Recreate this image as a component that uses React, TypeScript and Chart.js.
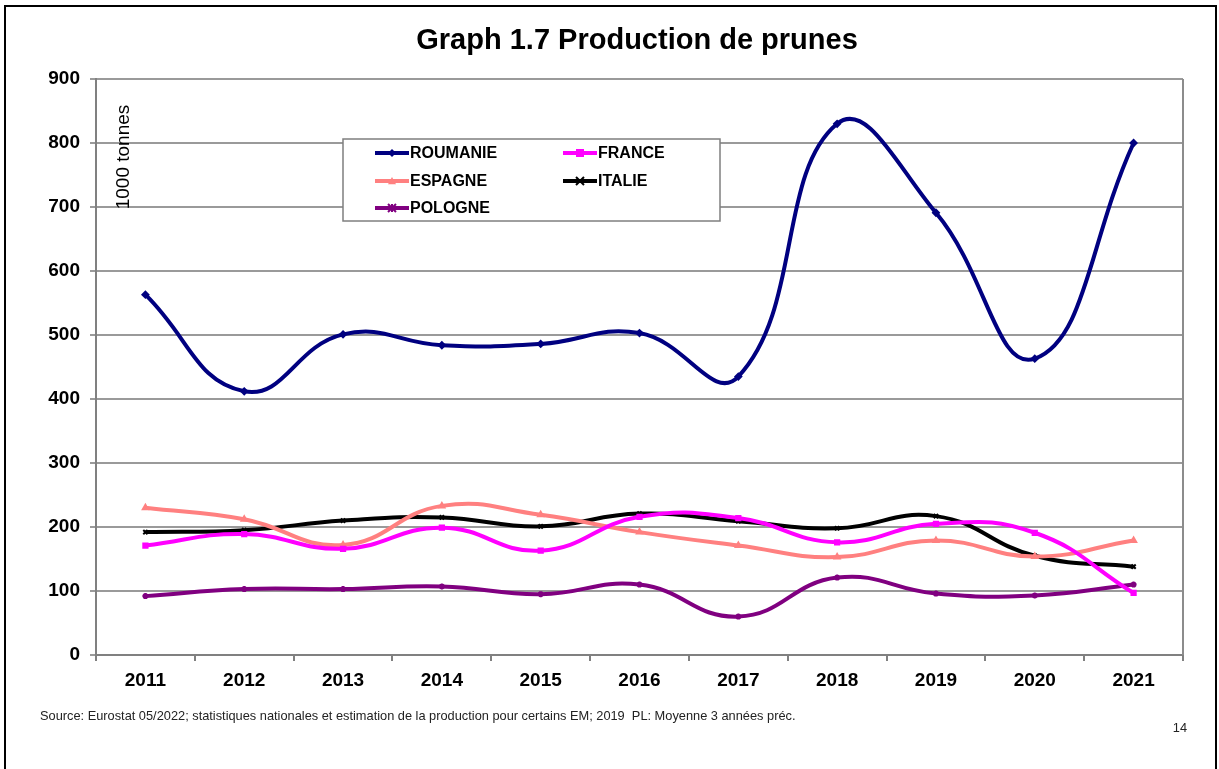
import React, { useEffect, useRef } from "react";
import { Chart, registerables } from "chart.js";

Chart.register(...registerables);

const years = ["2011", "2012", "2013", "2014", "2015", "2016", "2017", "2018", "2019", "2020", "2021"];
const roumanie = [563, 412, 501, 484, 486, 503, 435, 830, 691, 463, 800];
const france = [171, 189, 166, 199, 163, 216, 214, 176, 205, 191, 97];
const espagne = [230, 212, 172, 233, 219, 192, 171, 153, 179, 154, 179];
const italie = [192, 195, 210, 215, 201, 221, 209, 198, 217, 155, 138];
const pologne = [92, 103, 103, 107, 95, 110, 60, 121, 96, 93, 110];

const seriesNames = ["ROUMANIE", "FRANCE", "ESPAGNE", "ITALIE", "POLOGNE"];
const seriesColors = ["#000080", "#FF00FF", "#FF8080", "#000000", "#800080"];
const seriesMarkers = ["rectRot", "rect", "triangle", "crossRot", "star"];

const titleText = "Graph 1.7 Production de prunes";
const yAxisText = "1000 tonnes";
const sourceText =
  "Source: Eurostat 05/2022; statistiques nationales et estimation de la production pour certains EM; 2019  PL: Moyenne 3 années préc.";
const pageNumber = "14";

const FONT = "Arial, 'Liberation Sans', Helvetica, sans-serif";

function drawMarker(ctx: CanvasRenderingContext2D, style: string, x: number, y: number, r: number, color: string) {
  ctx.save();
  ctx.fillStyle = color;
  ctx.strokeStyle = color;
  ctx.lineWidth = 2;
  ctx.beginPath();
  if (style === "rect") {
    ctx.fillRect(x - r, y - r, 2 * r, 2 * r);
  } else if (style === "rectRot") {
    ctx.moveTo(x, y - r);
    ctx.lineTo(x + r, y);
    ctx.lineTo(x, y + r);
    ctx.lineTo(x - r, y);
    ctx.closePath();
    ctx.fill();
  } else if (style === "triangle") {
    ctx.moveTo(x, y - r);
    ctx.lineTo(x + r, y + r * 0.8);
    ctx.lineTo(x - r, y + r * 0.8);
    ctx.closePath();
    ctx.fill();
  } else if (style === "crossRot") {
    ctx.moveTo(x - r, y - r);
    ctx.lineTo(x + r, y + r);
    ctx.moveTo(x + r, y - r);
    ctx.lineTo(x - r, y + r);
    ctx.stroke();
  } else {
    ctx.moveTo(x - r, y - r);
    ctx.lineTo(x + r, y + r);
    ctx.moveTo(x + r, y - r);
    ctx.lineTo(x - r, y + r);
    ctx.moveTo(x, y - r);
    ctx.lineTo(x, y + r);
    ctx.stroke();
  }
  ctx.restore();
}

const decorPlugin = {
  id: "decor",
  beforeDraw(chart: any) {
    const ctx = chart.ctx as CanvasRenderingContext2D;
    ctx.save();
    ctx.fillStyle = "#ffffff";
    ctx.fillRect(0, 0, chart.width, chart.height);
    ctx.restore();
  },
  afterDraw(chart: any) {
    const ctx = chart.ctx as CanvasRenderingContext2D;
    const area = chart.chartArea;
    ctx.save();
    // plot area right border
    ctx.strokeStyle = "#8c8c8c";
    ctx.lineWidth = 2;
    ctx.beginPath();
    ctx.moveTo(area.right, area.top);
    ctx.lineTo(area.right, area.bottom);
    ctx.stroke();

    // outer frame
    ctx.strokeStyle = "#000000";
    ctx.lineWidth = 2;
    ctx.beginPath();
    ctx.moveTo(5, chart.height + 2);
    ctx.lineTo(5, 6);
    ctx.lineTo(1216, 6);
    ctx.lineTo(1216, chart.height + 2);
    ctx.stroke();

    // title
    ctx.fillStyle = "#000";
    ctx.font = `bold 29px ${FONT}`;
    ctx.textAlign = "center";
    ctx.textBaseline = "middle";
    ctx.fillText(titleText, 637, 41);

    // y axis caption
    ctx.save();
    ctx.translate(124, 157);
    ctx.rotate(-Math.PI / 2);
    ctx.font = `19px ${FONT}`;
    ctx.textAlign = "center";
    ctx.textBaseline = "middle";
    ctx.fillText(yAxisText, 0, 0);
    ctx.restore();

    // footer
    ctx.font = `12.8px ${FONT}`;
    ctx.textAlign = "left";
    ctx.textBaseline = "middle";
    ctx.fillStyle = "#222";
    ctx.fillText(sourceText, 40, 716);
    ctx.textAlign = "right";
    ctx.fillText(pageNumber, 1187, 728);

    // legend box
    const bx = 343, by = 139, bw = 377, bh = 82;
    ctx.fillStyle = "#ffffff";
    ctx.fillRect(bx, by, bw, bh);
    ctx.strokeStyle = "#7f7f7f";
    ctx.lineWidth = 1.5;
    ctx.strokeRect(bx, by, bw, bh);

    const positions = [
      [375, 153],
      [563, 153],
      [375, 181],
      [563, 181],
      [375, 208],
    ];
    ctx.font = `bold 16px ${FONT}`;
    ctx.textAlign = "left";
    ctx.textBaseline = "middle";
    chart.data.datasets.forEach((ds: any, i: number) => {
      const [lx, ly] = positions[i];
      ctx.strokeStyle = ds.borderColor;
      ctx.lineWidth = 4;
      ctx.beginPath();
      ctx.moveTo(lx, ly);
      ctx.lineTo(lx + 34, ly);
      ctx.stroke();
      drawMarker(ctx, ds.pointStyle, lx + 17, ly, 4, ds.borderColor);
      ctx.fillStyle = "#000";
      ctx.fillText(ds.label, lx + 35, ly + 1);
    });
    ctx.restore();
  },
};

export default function App() {
  const canvasRef = useRef<HTMLCanvasElement | null>(null);

  useEffect(() => {
    if (!canvasRef.current) return;
    const allData = [roumanie, france, espagne, italie, pologne];
    const chart = new Chart(canvasRef.current, {
      type: "line",
      data: {
        labels: years,
        datasets: allData.map((d, i) => ({
          label: seriesNames[i],
          data: d,
          borderColor: seriesColors[i],
          backgroundColor: seriesColors[i],
          borderWidth: 4,
          pointStyle: seriesMarkers[i] as any,
          pointRadius: 3,
          pointBorderWidth: 2,
          pointBackgroundColor: seriesColors[i],
          pointBorderColor: seriesColors[i],
          tension: 0.45,
          fill: false,
        })),
      },
      options: {
        animation: false,
        responsive: false,
        maintainAspectRatio: false,
        layout: { padding: { left: 0, top: 79, right: 36, bottom: 0 } },
        plugins: {
          legend: { display: false },
          title: { display: false },
          tooltip: { enabled: false },
        },
        scales: {
          x: {
            type: "category",
            offset: true,
            afterFit: (scale: any) => {
              scale.height = 114;
            },
            grid: {
              display: true,
              drawOnChartArea: false,
              drawTicks: true,
              tickLength: 6,
              color: "#808080",
              lineWidth: 2,
              offset: true,
            },
            border: { display: true, color: "#808080", width: 2 },
            ticks: {
              color: "#000",
              font: { family: FONT, size: 19, weight: "bold" },
              padding: 8,
              maxRotation: 0,
              autoSkip: false,
            },
          },
          y: {
            min: 0,
            max: 900,
            afterFit: (scale: any) => {
              scale.width = 96;
            },
            ticks: {
              stepSize: 100,
              color: "#000",
              font: { family: FONT, size: 19, weight: "bold" },
              padding: 10,
            },
            grid: {
              color: "#9a9a9a",
              lineWidth: 2,
              tickLength: 6,
              drawTicks: true,
            },
            border: { display: true, color: "#808080", width: 2 },
          },
        },
      },
      plugins: [decorPlugin],
    });
    return () => chart.destroy();
  }, []);

  return (
    <div style={{ position: "absolute", left: 0, top: 0, width: 1219, height: 769 }}>
      <canvas ref={canvasRef} width={1219} height={769} style={{ display: "block" }} />
    </div>
  );
}
